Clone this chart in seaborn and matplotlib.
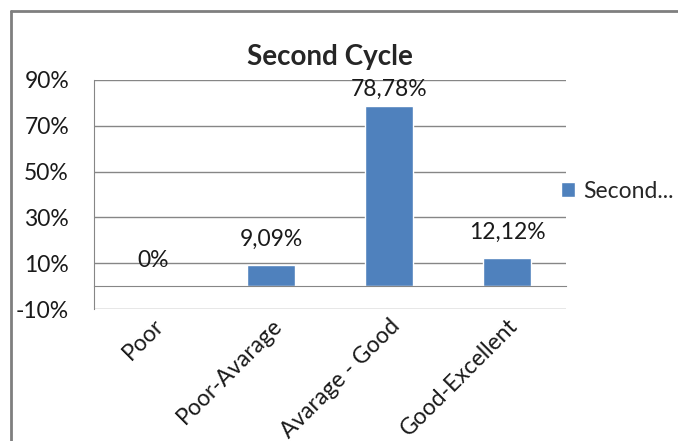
import numpy as np
import pandas as pd
import matplotlib
matplotlib.use("Agg")
import matplotlib.pyplot as plt
from matplotlib.lines import Line2D
import seaborn as sns

# data
categories = ["Poor", "Poor-Avarage", "Avarage - Good", "Good-Excellent"]
values = [0, 9.09, 78.78, 12.12]
value_labels = ["0%", "9,09%", "78,78%", "12,12%"]
y_ticks = [-10, 10, 30, 50, 70, 90]
series_name = "Second..."

df = pd.DataFrame({"category": categories, "value": values})

sns.set_style("white")
plt.rcParams["font.family"] = ["Lato", "DejaVu Sans"]

bar_color = "#4F81BD"
grid_color = "#868686"
text_color = "#1a1a1a"
fs = 16.5

fig = plt.figure(figsize=(6.78, 4.41), dpi=100)
ax = fig.add_axes([94/678, 1 - 309/441, 472/678, 229/441])

sns.barplot(data=df, x="category", y="value", color=bar_color, width=0.4,
            saturation=1, ax=ax, label=series_name)

ax.set_ylim(-10, 90)
ax.set_xlim(-0.5, len(categories) - 0.5)
ax.set_yticks(y_ticks)
ax.set_yticklabels([f"{t}%" for t in y_ticks], fontsize=fs, color=text_color)
for t in y_ticks:
    ax.axhline(t, color=grid_color, lw=1, zorder=0)

# category axis sits at zero
for s in ["top", "right"]:
    ax.spines[s].set_visible(False)
ax.spines["left"].set_color(grid_color)
ax.spines["bottom"].set_position(("data", 0))
ax.spines["bottom"].set_color(grid_color)
ax.tick_params(axis="y", length=8, color=grid_color, width=1, pad=10)
ax.set_xticks(np.arange(len(categories)) + 0.5, minor=True)
ax.tick_params(axis="x", which="minor", length=6, color=grid_color, width=1)
ax.tick_params(axis="x", which="major", length=0, pad=21)
ax.set_xticks(range(len(categories)))
ax.set_xticklabels(categories, rotation=45, ha="right", rotation_mode="anchor",
                   fontsize=fs, color=text_color)
ax.set_xlabel("")
ax.set_ylabel("")

# data labels
label_pad = [11, 11, 4, 11]
for i, (v, lab) in enumerate(zip(values, value_labels)):
    ax.annotate(lab, (i, v), xytext=(0, label_pad[i]), textcoords="offset points",
                ha="center", va="bottom", fontsize=fs, color=text_color)

ax.set_title("Second Cycle", fontsize=20, fontweight="bold", pad=11)

ax.legend(loc="center left", bbox_to_anchor=(561/678, 1 - 191/441),
          bbox_transform=fig.transFigure, frameon=False, fontsize=fs,
          handlelength=0.6, handleheight=0.6, handletextpad=0.35, borderpad=0,
          borderaxespad=0)

# chart area border (left and top edges visible)
fig.add_artist(Line2D([11/678, 11/678], [0, 1 - 11/441], color="#7f7f7f", lw=2,
                      transform=fig.transFigure))
fig.add_artist(Line2D([11/678, 1], [1 - 11/441, 1 - 11/441], color="#7f7f7f", lw=2,
                      transform=fig.transFigure))

fig.savefig("out.png", dpi=100)
